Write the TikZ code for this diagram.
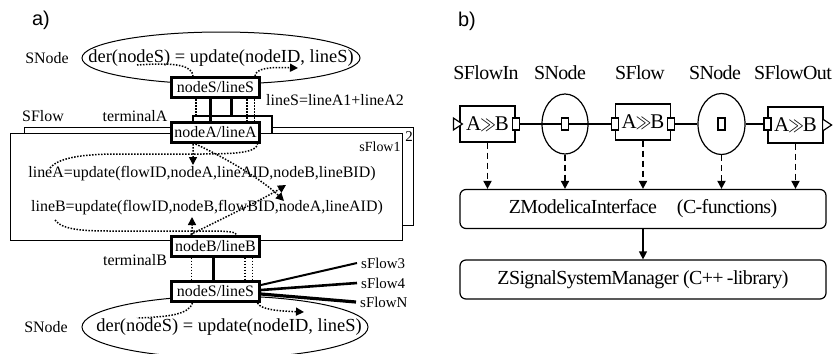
\documentclass[tikz,border=0pt]{standalone}
\usepackage{fontspec}
\setmainfont{Liberation Serif}
\newfontfamily\tagfont{Liberation Sans}
\newfontfamily\tightfont[LetterSpace=-3]{Liberation Serif}
\usetikzlibrary{arrows.meta,positioning,calc,shapes.geometric}
\newcommand{\fsz}[1]{\fontsize{#1}{#1}\selectfont}
\newcommand{\conv}{A\kern-1bp\scalebox{0.75}[1]{$\gg$}\kern-1bp B}

\begin{document}
\begin{tikzpicture}[x=1bp,y=-1bp,>={Triangle[length=8bp,width=8bp]},
  termbox/.style={draw,line width=3bp,fill=white,minimum width=88bp,minimum height=20bp,inner sep=0pt,font=\fsz{16}},
  link/.style={line width=3bp},
  dep/.style={line width=1.5bp,dash pattern=on 1.5bp off 1.5bp},
  snode/.style={draw,ellipse,line width=1bp,fill=white,inner sep=0pt},
  frame/.style={draw,fill=white,anchor=north west,inner sep=0pt},
  lbl/.style={font=\fsz{16},inner sep=0pt},
  blbl/.style={font=\tightfont\fsz{20},inner sep=0pt},
  flowbox/.style={draw,line width=1.2bp,fill=white,minimum width=55bp,minimum height=36bp,inner sep=0pt,font=\tightfont\fsz{21}},
  port/.style={draw,line width=1.2bp,fill=white,minimum width=7bp,minimum height=12bp,inner sep=0pt},
  layer/.style={draw,line width=1.2bp,rounded corners=6bp,minimum width=366bp,minimum height=39bp,font=\tightfont\fsz{20}},
  call/.style={line width=1.8bp,dash pattern=on 6bp off 4bp}]
\useasboundingbox (0,0) rectangle (834,353);

% a) model level
\node[font=\tagfont\fsz{20}] (tagA) at (41,20) {a)};
\node[snode,minimum width=278bp,minimum height=52bp] (eTop) at (221,58) {};
\node[lbl,font=\fsz{18.5}] (eqTop) at (eTop.center) {der(nodeS) = update(nodeID, lineS)};
\node[lbl] (snTop) at (47,58) {SNode};

\node[frame,line width=1.3bp,minimum width=389bp,minimum height=98bp] (flow2) at (24,127) {};
\node[draw,line width=2bp,fill=white,minimum width=79bp,minimum height=24bp] (termA2) at (232,128) {};
\node[frame,line width=1bp,minimum width=392bp,minimum height=107bp] (flow1) at (10,133) {};
\node[lbl,font=\fsz{14}] (fl1) at (380,147) {sFlow1};
\node[lbl,font=\fsz{15}] (fl2) at (409,137) {2};
\node[lbl] (sflow) at (43,116) {SFlow};
\node[lbl] (termA) at (135,116) {terminalA};
\node[lbl] (termB) at (135,260) {terminalB};
\node[lbl] (sumS) at (335,100) {lineS=lineA1+lineA2};

\node[lbl] (eqA) at (202,174) {lineA=update(flowID,nodeA,lineAID,nodeB,lineBID)};
\node[lbl] (eqB) at (207,208) {lineB=update(flowID,nodeB,flowBID,nodeA,lineAID)};

\node[snode,minimum width=286bp,minimum height=62bp] (eBot) at (225,327) {};
\node[lbl,font=\fsz{18.5}] (eqBot) at (229,327) {der(nodeS) = update(nodeID, lineS)};
\node[lbl] (snBot) at (46,327) {SNode};

\node[termbox] (nS1) at (215.5,87.5) {nodeS/lineS};
\node[termbox] (nA) at (215.5,132.5) {nodeA/lineA};
\node[termbox] (nB) at (215.5,246) {nodeB/lineB};
\node[termbox] (nS2) at (215.5,291.5) {nodeS/lineS};

% terminal connections
\draw[link] ([xshift=-5bp]nS1.south) -- ([xshift=-5bp]nA.north);
\draw[link] ([xshift=15.5bp]nS1.south) -- ([xshift=15.5bp]nS1.south |- termA2.north);
\draw[dep] ([xshift=-19.5bp]nS1.south) -- ([xshift=-19.5bp]nS1.south |- termA2.north);
\foreach \dx in {31.5,39}
  \draw[dep] ([xshift=\dx bp]nS1.south) -- ([xshift=\dx bp]nA.north);
\draw[link] ([xshift=-2bp]nB.south) -- ([xshift=-2bp]nS2.north);
\foreach \dx in {-24,29.5,37}
  \draw[dep] ([xshift=\dx bp]nB.south) -- ([xshift=\dx bp]nS2.north);

% further flows at the node
\node[lbl,anchor=west,font=\fsz{15}] (f3) at (361,263) {sFlow3};
\node[lbl,anchor=west,font=\fsz{15}] (f4) at (361,283) {sFlow4};
\node[lbl,anchor=west,font=\fsz{15}] (fN) at (360,302) {sFlowN};
\foreach \dy/\f/\w in {6.5/f3/2,1.5/f4/2.6,-2.5/fN/3.2}
  \draw[line width=\w bp] ([yshift=\dy bp]nS2.east) -- ([xshift=-4bp]\f.west);

% data dependencies
\coordinate (derS1) at (137,65);
\coordinate (upS1) at (298,68);
\draw[dep] (derS1) .. controls (178,62) and (192,66) .. ([xshift=-22.5bp]nS1.north);
\draw[dep,->] ([xshift=39.5bp]nS1.north) .. controls (256,68) and (270,67) .. (upS1);

\coordinate (resA) at (50,168);
\coordinate (useA1) at (193,165);
\coordinate (useA2) at (284,201);
\draw[dep] (resA) .. controls (60,156) and (90,154) .. (120,154) -- (200,154) .. controls (240,154) and (256,152) .. ([xshift=42bp]nA.south);
\draw[dep,->] ([xshift=-22.5bp]nA.south) -- (useA1);
\draw[dep,->] ([xshift=-20bp]nA.south) .. controls (230,160) and (265,182) .. (useA2);

\coordinate (resB) at (55,220);
\coordinate (useB1) at (192,217);
\coordinate (useB2) at (286,185);
\draw[dep] (resB) .. controls (62,230) and (85,231) .. (110,231) -- (210,231) .. controls (228,231) and (236,232) .. ([xshift=21bp]nB.north);
\draw[dep,->] ([xshift=-23.5bp]nB.north) -- (useB1);
\draw[dep,->] ([xshift=-25bp]nB.north) .. controls (230,215) and (265,198) .. (useB2);

\coordinate (derS2) at (137,318);
\coordinate (upS2) at (304,312);
\draw[dep] ([xshift=-23bp]nS2.south) .. controls (189,314) and (170,317) .. (derS2);
\draw[dep,->] ([xshift=42bp]nS2.south) .. controls (261,310) and (280,311) .. (upS2);

% b) implementation level
\node[font=\tagfont\fsz{20}] (tagB) at (467,21) {b)};

\node[flowbox] (fin) at (487.5,124) {\conv};
\node[draw,ellipse,line width=1.2bp,minimum width=46bp,minimum height=60bp,inner sep=0pt] (sn1) at (565,124) {};
\node[flowbox] (flow) at (643,122) {\conv};
\node[draw,ellipse,line width=1.2bp,minimum width=47bp,minimum height=61bp,inner sep=0pt] (sn2) at (721.5,124) {};
\node[flowbox] (fout) at (795.5,125) {\conv};

\node[port] (finR) at (fin.east) {};
\node[port] (sn1c) at (sn1.center) {};
\node[port] (flowL) at (flow.west |- sn1.center) {};
\node[port] (flowR) at (flow.east |- sn1.center) {};
\node[port] (sn2c) at (sn2.center) {};
\node[port] (foutL) at (fout.west |- sn2.center) {};
\draw[line width=1.2bp,fill=white] ([xshift=-6bp,yshift=6bp]fin.west) -- ([xshift=3bp]fin.west) -- ([xshift=-6bp,yshift=-6bp]fin.west) -- cycle;
\draw[line width=1.2bp,fill=white] ([xshift=-1bp,yshift=6bp]fout.east) -- ([xshift=8bp]fout.east) -- ([xshift=-1bp,yshift=-6bp]fout.east) -- cycle;

\draw[line width=1.2bp] (finR.east) -- (sn1c.west);
\draw[line width=1.2bp] (sn1c.east) -- (flowL.west);
\draw[line width=1.2bp] (flowR.east) -- (sn2.west);
\draw[line width=1.2bp] (sn2.east) -- (foutL.west);

\node[blbl] (tIn) at (486,73) {SFlowIn};
\node[blbl] (tN1) at (560,73) {SNode};
\node[blbl] (tFl) at (640,73) {SFlow};
\node[blbl] (tN2) at (715,73) {SNode};
\node[blbl] (tOut) at (793,73) {SFlowOut};

\node[layer] (zmi) at (643,209) {ZModelicaInterface\hspace{20bp}(C-functions)};
\node[layer] (zssm) at (643,279.5) {ZSignalSystemManager (C++\,-library)};

\foreach \src in {fin,sn1,flow,sn2,fout}
  \draw[call,->] (\src.south) -- (\src.south |- zmi.north);
\draw[line width=1.2bp,->] (zmi.south) -- (zssm.north);
\end{tikzpicture}
\end{document}
